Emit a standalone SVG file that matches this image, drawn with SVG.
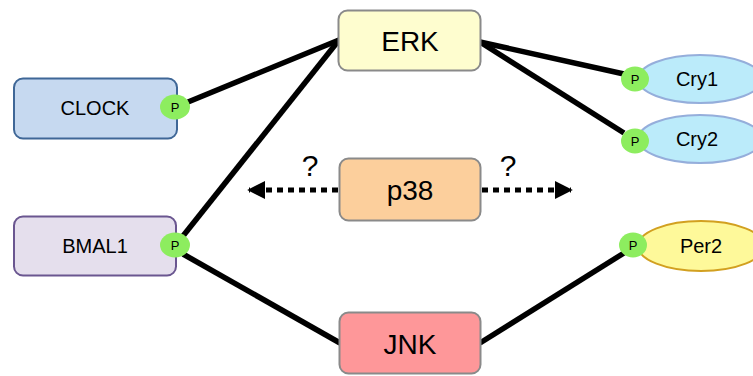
<svg xmlns="http://www.w3.org/2000/svg" width="753" height="376" viewBox="0 0 753 376">
<defs>
<style>
.lbl{font-family:"Liberation Sans",Arial,sans-serif;fill:#000;text-anchor:middle;dominant-baseline:central}
.big{font-size:28px}
.med{font-size:20px}
.q{font-size:30px}
.p{font-family:"Liberation Sans",Arial,sans-serif;font-size:13px;fill:#000;text-anchor:middle;dominant-baseline:central}
.ph{fill:#8ded5f}
.edge{stroke:#000;stroke-width:5.5;fill:none}
.dash{stroke:#000;stroke-width:5;fill:none;stroke-dasharray:6 5}
</style>
<marker id="ah" viewBox="0 0 10 10" refX="9" refY="5" markerWidth="3.6" markerHeight="3.6" orient="auto" markerUnits="strokeWidth">
<path d="M0,0 L10,5 L0,10 z" fill="#000"/>
</marker>
</defs>
<rect width="753" height="376" fill="#fff"/>
<g id="connectors">
<line class="edge" x1="188" y1="102" x2="339" y2="40"/>
<line class="edge" x1="183" y1="236" x2="339" y2="40"/>
<line class="edge" x1="183" y1="254" x2="340" y2="343"/>
<line class="edge" x1="480" y1="42" x2="624" y2="74"/>
<line class="edge" x1="480" y1="42" x2="624" y2="133"/>
<line class="edge" x1="480" y1="343" x2="624" y2="253"/>
<line class="dash" x1="338" y1="190" x2="249" y2="190" marker-end="url(#ah)"/>
<line class="dash" x1="482" y1="190" x2="571" y2="190" marker-end="url(#ah)"/>
<text class="lbl q" x="310" y="165">?</text>
<text class="lbl q" x="508" y="165">?</text>
</g>
<g id="ERK">
<rect x="338.5" y="10.5" width="142" height="60" rx="9" fill="#fefdcf" stroke="#8a8a8a" stroke-width="2"/>
<text class="lbl big" x="410" y="41">ERK</text>
</g>
<g id="p38">
<rect x="339.5" y="158.5" width="141" height="62" rx="9" fill="#fccf9c" stroke="#8a8a8a" stroke-width="2"/>
<text class="lbl big" x="410" y="190">p38</text>
</g>
<g id="JNK">
<rect x="339.5" y="312.5" width="141" height="61" rx="9" fill="#fe9799" stroke="#8a8a8a" stroke-width="2"/>
<text class="lbl big" x="410" y="344">JNK</text>
</g>
<g id="CLOCK">
<rect x="14" y="78.5" width="163" height="60" rx="9" fill="#c6d9f0" stroke="#3f6797" stroke-width="2"/>
<text class="lbl med" x="95" y="108">CLOCK</text>
<ellipse class="ph" cx="175" cy="107" rx="15" ry="12.5"/>
<text class="p" x="175" y="107">P</text>
</g>
<g id="BMAL1">
<rect x="14" y="216.5" width="162" height="59" rx="9" fill="#e5dfed" stroke="#6a5690" stroke-width="2"/>
<text class="lbl med" x="95" y="246">BMAL1</text>
<ellipse class="ph" cx="175" cy="245" rx="15" ry="12.5"/>
<text class="p" x="175" y="245">P</text>
</g>
<g id="Cry1">
<ellipse cx="700" cy="79" rx="62" ry="24" fill="#bbebfa" stroke="#95aedb" stroke-width="2"/>
<text class="lbl med" x="697" y="79">Cry1</text>
<ellipse class="ph" cx="635" cy="79" rx="14" ry="12.5"/>
<text class="p" x="635" y="79">P</text>
</g>
<g id="Cry2">
<ellipse cx="700" cy="139" rx="62" ry="24" fill="#bbebfa" stroke="#95aedb" stroke-width="2"/>
<text class="lbl med" x="697" y="139">Cry2</text>
<ellipse class="ph" cx="635" cy="141" rx="14" ry="12.5"/>
<text class="p" x="635" y="141">P</text>
</g>
<g id="Per2">
<ellipse cx="701" cy="246" rx="63" ry="25" fill="#fef99a" stroke="#d2a020" stroke-width="2"/>
<text class="lbl med" x="701" y="246">Per2</text>
<ellipse class="ph" cx="633" cy="245" rx="14" ry="12.5"/>
<text class="p" x="633" y="245">P</text>
</g>
</svg>
